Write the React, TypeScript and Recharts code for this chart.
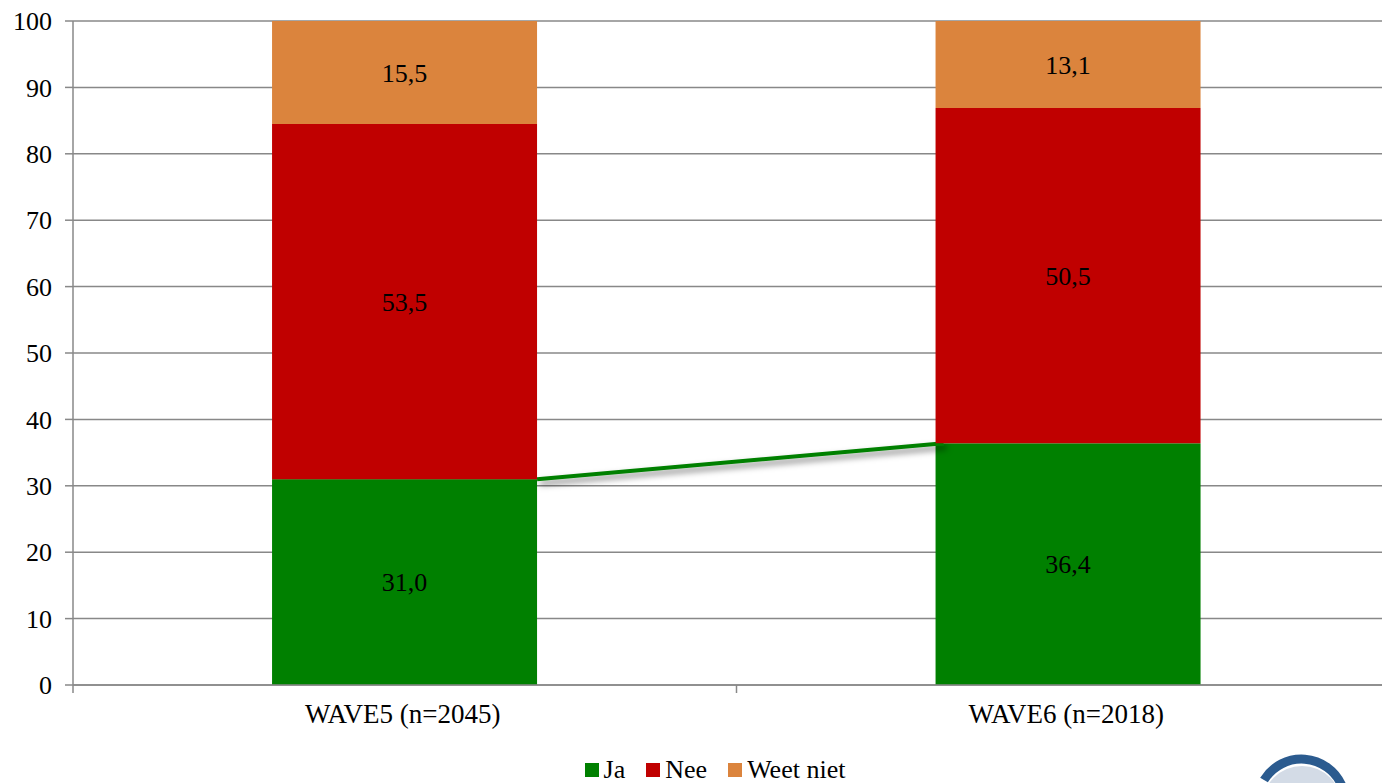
import React from "react";
import { BarChart, Bar, XAxis, YAxis, CartesianGrid, Legend, LabelList } from "recharts";

const categories = ["WAVE5 (n=2045)", "WAVE6 (n=2018)"];
const jaValues = [31.0, 36.4];
const neeValues = [53.5, 50.5];
const weetNietValues = [15.5, 13.1];
const yTicks = [0, 10, 20, 30, 40, 50, 60, 70, 80, 90, 100];

const seriesNames = { ja: "Ja", nee: "Nee", weet: "Weet niet" };
const COLORS = { ja: "#008000", nee: "#C00000", weet: "#DB843D" };

const data = categories.map((c, i) => ({
  name: c,
  ja: jaValues[i],
  nee: neeValues[i],
  weet: weetNietValues[i],
}));

const FONT = "'Liberation Serif', 'Times New Roman', serif";
const AXIS = "#888888";
const CHART_W = 1421;
const CHART_H = 783;
const Y_AXIS_W = 73;
const MARGIN = { top: 21, right: 21, left: 0, bottom: 0 };
const PLOT_W = CHART_W - Y_AXIS_W - MARGIN.left - MARGIN.right;
const BAND = PLOT_W / categories.length;

const fmt = (v: any) => (typeof v === "number" ? v.toFixed(1).replace(".", ",") : v);

const JaShape = (props: any) => {
  const { x, y, width, height, index, fill } = props;
  const rect = <rect x={x} y={y} width={width} height={height} fill={fill} />;
  if (!index || index < 1) return rect;
  const pxPerUnit = height / jaValues[index];
  const baseY = y + height;
  const prevY = baseY - jaValues[index - 1] * pxPerUnit;
  const prevX = x - BAND + width;
  return (
    <g>
      {rect}
      <defs>
        <filter id="seriesShadow" x="-10%" y="-200%" width="120%" height="500%">
          <feDropShadow dx="3" dy="4" stdDeviation="3" floodColor="#000" floodOpacity="0.5" />
        </filter>
      </defs>
      <line
        x1={prevX}
        y1={prevY}
        x2={x + 8}
        y2={y}
        stroke={COLORS.ja}
        strokeWidth={4}
        filter="url(#seriesShadow)"
      />
    </g>
  );
};

const XTick = (props: any) => {
  const { x, y, payload, index } = props;
  return (
    <g>
      <line x1={x - BAND / 2} x2={x - BAND / 2} y1={y} y2={y + 8} stroke={AXIS} strokeWidth={1.5} />
      {index === categories.length - 1 && (
        <line x1={x + BAND / 2} x2={x + BAND / 2} y1={y} y2={y + 8} stroke={AXIS} strokeWidth={1.5} />
      )}
      <text x={x - 2} y={y + 38} textAnchor="middle" fontFamily={FONT} fontSize={27} fill="#000">
        {payload.value}
      </text>
    </g>
  );
};

const LegendContent = () => {
  const items = [
    { key: "ja", label: seriesNames.ja },
    { key: "nee", label: seriesNames.nee },
    { key: "weet", label: seriesNames.weet },
  ];
  return (
    <div
      style={{
        height: 40,
        boxSizing: "border-box",
        paddingTop: 14,
        display: "flex",
        justifyContent: "center",
        alignItems: "center",
        fontFamily: FONT,
        fontSize: 26,
        color: "#000",
      }}
    >
      {items.map((it, i) => (
        <div
          key={it.key}
          style={{ display: "flex", alignItems: "center", height: 26, marginRight: i < items.length - 1 ? 21 : 0 }}
        >
          <span style={{ display: "inline-block", width: 14, height: 14, background: (COLORS as any)[it.key], marginRight: 5 }} />
          <span style={{ lineHeight: "26px" }}>{it.label}</span>
        </div>
      ))}
    </div>
  );
};

export default function App() {
  return (
    <div
      style={{
        position: "absolute",
        left: 0,
        top: 0,
        width: 1382,
        height: 783,
        overflow: "hidden",
        background: "#fff",
      }}
    >
      <BarChart width={CHART_W} height={CHART_H} data={data} margin={MARGIN} barCategoryGap="30%">
        <CartesianGrid vertical={false} stroke={AXIS} strokeWidth={1.5} />
        <XAxis
          dataKey="name"
          height={58}
          axisLine={{ stroke: AXIS, strokeWidth: 1.5 }}
          tickLine={false}
          tickSize={0}
          tickMargin={0}
          tick={<XTick />}
          interval={0}
        />
        <YAxis
          width={Y_AXIS_W}
          domain={[0, 100]}
          ticks={yTicks}
          interval={0}
          axisLine={{ stroke: AXIS, strokeWidth: 1.5 }}
          tickLine={{ stroke: AXIS, strokeWidth: 1.5 }}
          tickSize={8}
          tickMargin={13}
          tick={{ fontFamily: FONT, fontSize: 26, fill: "#000" }}
        />
        <Legend
          verticalAlign="bottom"
          height={40}
          wrapperStyle={{ left: 0, width: 1430, bottom: 0 }}
          content={<LegendContent />}
        />
        <Bar dataKey="ja" name={seriesNames.ja} stackId="s" fill={COLORS.ja} isAnimationActive={false} shape={<JaShape />}>
          <LabelList dataKey="ja" position="center" formatter={fmt} fill="#000" fontFamily={FONT} fontSize={26} />
        </Bar>
        <Bar dataKey="nee" name={seriesNames.nee} stackId="s" fill={COLORS.nee} isAnimationActive={false}>
          <LabelList dataKey="nee" position="center" formatter={fmt} fill="#000" fontFamily={FONT} fontSize={26} />
        </Bar>
        <Bar dataKey="weet" name={seriesNames.weet} stackId="s" fill={COLORS.weet} isAnimationActive={false}>
          <LabelList dataKey="weet" position="center" formatter={fmt} fill="#000" fontFamily={FONT} fontSize={26} />
        </Bar>
      </BarChart>
      <svg style={{ position: "absolute", left: 1240, top: 740 }} width={142} height={43}>
        <circle cx={62} cy={66} r={40} fill="#d3dbe6" />
        <path d="M 24 40 A 44 44 0 0 1 102 46" fill="none" stroke="#2b5b8f" strokeWidth={9} />
      </svg>
    </div>
  );
}
